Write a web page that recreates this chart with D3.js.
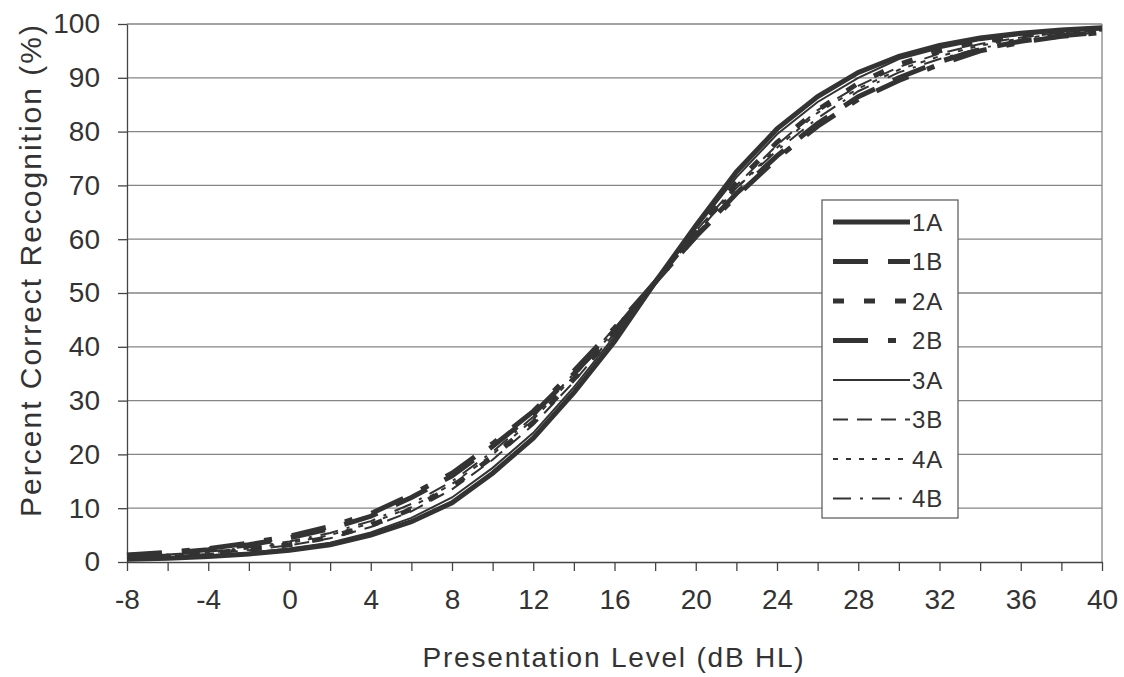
<!DOCTYPE html>
<html>
<head>
<meta charset="utf-8">
<script src="https://cdn.jsdelivr.net/npm/d3@7"></script>
<style>
  body { margin: 0; background: #fff; }
  svg text { font-family: "Liberation Sans", Arial, sans-serif; fill: #333; }
</style>
</head>
<body>
<svg id="chart" width="1124" height="677"></svg>
<script>
// presentation levels (dB HL)
var levels = [-8,-6,-4,-2,0,2,4,6,8,10,12,14,16,18,20,22,24,26,28,30,32,34,36,38,40];
var xTickLabels = [-8,-4,0,4,8,12,16,20,24,28,32,36,40];
var yTickLabels = [0,10,20,30,40,50,60,70,80,90,100];
var seriesNames = ["1A","1B","2A","2B","3A","3B","4A","4B"];

// percent correct
var s1A = [0.5,0.7,1.0,1.5,2.2,3.2,5.0,7.5,11.0,16.5,23.0,31.5,41.0,52.0,62.5,72.5,80.5,86.5,91.0,94.0,96.0,97.4,98.3,98.9,99.3];
var s1B = [1.2,1.6,2.3,3.2,4.5,6.2,8.5,12.0,16.0,21.5,27.5,35.0,43.0,52.0,60.5,68.5,75.5,81.5,86.5,90.0,93.0,95.3,96.8,97.8,98.5];
var s2A = [0.8,1.1,1.6,2.3,3.2,4.6,6.8,9.8,14.0,19.5,26.0,34.0,42.5,52.0,61.5,70.5,78.0,84.0,89.0,92.5,95.0,96.7,97.8,98.6,99.1];
var s2B = [1.3,1.8,2.5,3.5,4.8,6.6,9.0,12.5,16.5,22.0,28.0,35.5,43.5,52.0,60.5,68.0,75.0,81.0,86.0,89.5,92.5,95.0,96.6,97.7,98.4];
var s3A = [0.6,0.8,1.2,1.7,2.5,3.6,5.5,8.2,12.0,17.5,24.0,32.5,42.0,52.0,62.0,71.5,79.5,85.5,90.0,93.5,95.5,97.0,98.0,98.7,99.2];
var s3B = [0.8,1.1,1.5,2.2,3.1,4.4,6.5,9.4,13.5,19.0,25.5,33.5,42.5,52.0,61.5,70.0,77.5,84.0,88.5,92.0,94.5,96.3,97.5,98.4,99.0];
var s4A = [0.9,1.2,1.7,2.5,3.5,5.0,7.2,10.2,14.5,20.0,26.5,34.5,43.0,52.0,61.0,69.5,77.0,83.5,88.0,91.5,94.0,96.0,97.3,98.2,98.8];
var s4B = [1.0,1.4,1.9,2.7,3.8,5.4,7.6,10.8,15.0,20.5,27.0,35.0,43.5,52.0,61.0,69.5,76.5,82.5,87.5,91.0,93.5,95.5,96.8,97.8,98.5];

var seriesValues = [s1A, s1B, s2A, s2B, s3A, s3B, s4A, s4B];
var seriesStyle = [
  { width: 5,   dash: null },
  { width: 5,   dash: "35,20" },
  { width: 5,   dash: "11,20" },
  { width: 5,   dash: "35,20,8,20" },
  { width: 2,   dash: null },
  { width: 2,   dash: "15,9" },
  { width: 2,   dash: "5,8" },
  { width: 2,   dash: "18,9,3,9" }
];

var svg = d3.select("#chart");
var plotLeft = 127, plotRight = 1102, plotTop = 24, plotBottom = 562;

var x = d3.scaleLinear().domain([-8, 40]).range([plotLeft, plotRight]);
var y = d3.scaleLinear().domain([0, 100]).range([plotBottom, plotTop]);

// gridlines
svg.append("g")
  .selectAll("line")
  .data(yTickLabels.filter(function(d) { return d > 0; }))
  .enter()
  .append("line")
    .attr("x1", plotLeft).attr("x2", plotRight)
    .attr("y1", function(d) { return y(d); })
    .attr("y2", function(d) { return y(d); })
    .style("stroke", "#858585")
    .style("stroke-width", 1.3);

// right border
svg.append("line")
  .attr("x1", plotRight).attr("x2", plotRight).attr("y1", plotTop).attr("y2", plotBottom)
  .style("stroke", "#858585").style("stroke-width", 1.3);

// y axis
var yAxis = svg.append("g")
  .attr("transform", "translate(" + plotLeft + ",0)")
  .call(d3.axisLeft(y).tickValues(yTickLabels).tickSizeInner(9).tickSizeOuter(0).tickPadding(18));
yAxis.selectAll("text").style("font-size", "28px").style("fill", "#333");
yAxis.selectAll("line, path").style("stroke", "#444").style("stroke-width", 1.3);

// x axis
var xAxis = svg.append("g")
  .attr("transform", "translate(0," + plotBottom + ")")
  .call(d3.axisBottom(x).tickValues(levels).tickSizeInner(9).tickSizeOuter(0).tickPadding(18)
    .tickFormat(function(d) { return xTickLabels.indexOf(d) >= 0 ? d : ""; }));
xAxis.selectAll("text").style("font-size", "28px").style("fill", "#333");
xAxis.selectAll("line, path").style("stroke", "#444").style("stroke-width", 1.3);

// curves
var line = d3.line()
  .x(function(d, i) { return x(levels[i]); })
  .y(function(d) { return y(d); });

svg.append("g")
  .selectAll("path")
  .data(seriesValues)
  .enter()
  .append("path")
    .attr("d", line)
    .style("fill", "none")
    .style("stroke", "#333")
    .style("stroke-width", function(d, i) { return seriesStyle[i].width; })
    .style("stroke-dasharray", function(d, i) { return seriesStyle[i].dash; });

// axis titles
svg.append("text")
  .attr("x", 614).attr("y", 667)
  .attr("text-anchor", "middle")
  .style("font-size", "28px")
  .style("letter-spacing", "1.8px")
  .text("Presentation Level (dB HL)");

svg.append("text")
  .attr("transform", "translate(41,270) rotate(-90)")
  .attr("text-anchor", "middle")
  .style("font-size", "30px")
  .style("letter-spacing", "2px")
  .text("Percent Correct Recognition (%)");

// legend
var legend = svg.append("g").attr("transform", "translate(822,200)");
legend.append("rect")
  .attr("width", 136).attr("height", 318)
  .style("fill", "#fff").style("stroke", "#555").style("stroke-width", 1.2);

var item = legend.selectAll("g.item")
  .data(seriesNames)
  .enter()
  .append("g")
    .attr("class", "item")
    .attr("transform", function(d, i) { return "translate(0," + (22 + i * 39.5) + ")"; });

item.append("line")
  .attr("x1", 11).attr("x2", 88)
  .style("stroke", "#333")
  .style("stroke-width", function(d, i) { return seriesStyle[i].width; })
  .style("stroke-dasharray", function(d, i) { return seriesStyle[i].dash; });

item.append("text")
  .attr("x", 90).attr("dy", "0.36em")
  .style("font-size", "24px")
  .style("letter-spacing", "1px")
  .text(function(d) { return d; });
</script>
</body>
</html>
